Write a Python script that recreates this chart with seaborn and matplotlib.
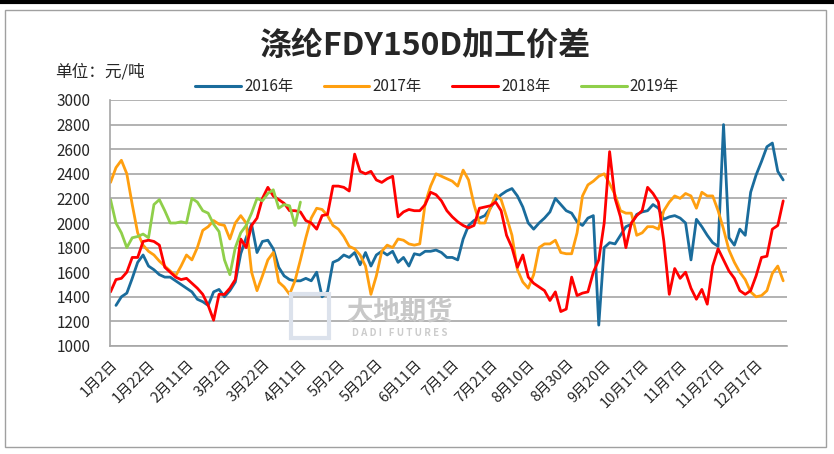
import numpy as np
import pandas as pd
import matplotlib
matplotlib.use("Agg")
import matplotlib.pyplot as plt
from matplotlib.patches import Rectangle
from matplotlib.lines import Line2D
import seaborn as sns

nan = np.nan

tick_labels = ["1月2日", "1月22日", "2月11日", "3月2日", "3月22日", "4月11日", "5月2日",
               "5月22日", "6月11日", "7月1日", "7月21日", "8月10日", "8月30日", "9月20日",
               "10月17日", "11月7日", "11月27日", "12月17日"]

y2016 = [nan, 1330, 1400, 1430, 1550, 1680, 1740, 1650, 1620, 1580,
         1560, 1560, 1530, 1500, 1470, 1440, 1380, 1360, 1330, 1440,
         1460, 1400, 1450, 1520, 1750, 1880, 1990, 1760, 1850, 1860,
         1790, 1640, 1570, 1540, 1530, 1530, 1550, 1530, 1600, 1400,
         1440, 1680, 1700, 1740, 1720, 1760, 1660, 1760, 1650, 1740,
         1770, 1740, 1770, 1680, 1720, 1650, 1750, 1740, 1770, 1770,
         1780, 1760, 1720, 1720, 1700, 1870, 1980, 2020, 2040, 2060,
         2120, 2190, 2230, 2260, 2280, 2220, 2130, 2000, 1950, 2000,
         2040, 2090, 2200, 2150, 2100, 2080, 2010, 1980, 2040, 2060,
         1170, 1800, 1840, 1830, 1900, 1970, 1990, 2070, 2090, 2100,
         2150, 2120, 2030, 2050, 2060, 2040, 2000, 1700, 2030, 1970,
         1900, 1840, 1810, 2800, 1880, 1820, 1950, 1900, 2250, 2390,
         2500, 2620, 2650, 2420, 2350]

y2017 = [2330, 2450, 2510, 2400, 2150, 1920, 1820, 1770, 1740, 1690,
         1650, 1610, 1570, 1650, 1740, 1700, 1800, 1940, 1970, 2020,
         1990, 1980, 1870, 2000, 2060, 2000, 1600, 1450, 1570, 1700,
         1760, 1520, 1480, 1420, 1530, 1700, 1880, 2040, 2120, 2110,
         2060, 1980, 1950, 1890, 1810, 1790, 1740, 1650, 1420, 1570,
         1770, 1820, 1800, 1870, 1860, 1830, 1820, 1830, 2160, 2300,
         2400, 2380, 2360, 2340, 2300, 2430, 2350, 2150, 2000, 2000,
         2120, 2230, 2190, 2050, 1900, 1620, 1520, 1470, 1580, 1800,
         1830, 1830, 1860, 1760, 1750, 1750, 1920, 2220, 2310, 2340,
         2380, 2400, 2320, 2230, 2100, 2080, 2080, 1900, 1920, 1970,
         1970, 1950, 2100, 2170, 2220, 2200, 2240, 2220, 2120, 2250,
         2220, 2220, 2100, 1950, 1780, 1680, 1600, 1540, 1440, 1400,
         1410, 1450, 1590, 1650, 1530]

y2018 = [1440, 1540, 1550, 1600, 1720, 1720, 1850, 1860, 1850, 1820,
         1640, 1600, 1560, 1540, 1550, 1510, 1470, 1420, 1330, 1210,
         1420, 1420, 1470, 1540, 1870, 1800, 1980, 2040, 2200, 2290,
         2220, 2190, 2160, 2100, 2100, 2090, 2020, 2000, 1950, 2060,
         2070, 2300, 2300, 2290, 2260, 2560, 2420, 2400, 2420, 2350,
         2330, 2360, 2380, 2050, 2090, 2110, 2100, 2100, 2150, 2250,
         2230, 2180, 2100, 2050, 2010, 1980, 1960, 1980, 2120, 2130,
         2140, 2170, 2100, 1900, 1800, 1640, 1740, 1560, 1510, 1480,
         1450, 1370, 1440, 1280, 1300, 1560, 1410, 1430, 1440, 1600,
         1700, 2000, 2580, 2200, 2050, 1800, 2000, 2060, 2100, 2290,
         2240, 2170, 1850, 1420, 1630, 1550, 1600, 1470, 1380, 1460,
         1340, 1650, 1790, 1700, 1610, 1550, 1450, 1420, 1450, 1570,
         1720, 1730, 1950, 1980, 2180]

y2019 = [2190, 2000, 1920, 1800, 1880, 1890, 1910, 1880, 2150, 2190,
         2100, 2000, 2000, 2010, 2000, 2200, 2170, 2100, 2080, 1990,
         1930, 1700, 1580, 1800, 1920, 1980, 2080, 2200, 2180, 2240,
         2270, 2120, 2150, 2140, 1980, 2170]

years = ["2016年", "2017年", "2018年", "2019年"]
colors = ["#1A6C9C", "#FF9F0F", "#FF0000", "#8FCF4A"]

n = len(y2016)
frames = []
for name, vals in zip(years, [y2016, y2017, y2018, y2019]):
    v = list(vals) + [nan] * (n - len(vals))
    frames.append(pd.DataFrame({"idx": np.arange(n), "value": v, "year": name}))
df = pd.concat(frames, ignore_index=True).dropna()

sns.set_theme(style="white")
plt.rcParams["font.family"] = ["Noto Sans CJK SC", "DejaVu Sans"]

W, H = 834, 454
fig = plt.figure(figsize=(W / 100, H / 100), dpi=100)
ax = fig.add_axes([110 / W, 1 - 346 / H, (787 - 110) / W, (346 - 100) / H])

# watermark (behind lines)
fig.patches.append(Rectangle((291 / W, 1 - 338 / H), 38 / W, 44 / H, transform=fig.transFigure,
                             fill=False, edgecolor="#DCE2EC", lw=3, zorder=0))
fig.text(400 / W, 1 - 313 / H, "大地期货", fontsize=19, color="#C8C8C8", fontweight="bold",
         ha="center", va="center", zorder=0)
fig.text(400 / W, 1 - 333 / H, "D A D I   F U T U R E S", fontsize=7, color="#CCCCCC",
         fontweight="bold", ha="center", va="center", zorder=0)

ax.patch.set_alpha(0)
sns.lineplot(data=df, x="idx", y="value", hue="year", hue_order=years,
             palette=colors, linewidth=2.0, ax=ax, legend=False, sort=False)

ax.set_xlim(-0.1, 124.7)
ax.set_ylim(1000, 3000)
ax.set_yticks(np.arange(1000, 3001, 200))
ax.set_xticks(np.arange(0, 7 * len(tick_labels), 7))
ax.set_xticklabels(tick_labels, rotation=45, ha="right", rotation_mode="anchor", fontsize=10.5)
ax.tick_params(axis="y", length=0, pad=14, labelsize=11)
ax.tick_params(axis="x", length=0, pad=8)
ax.set_xlabel("")
ax.set_ylabel("")
ax.grid(axis="y", color="#A6A6A6", linewidth=1.2)
ax.grid(axis="x", visible=False)
for s in ["top", "right"]:
    ax.spines[s].set_visible(False)
for s in ["left", "bottom"]:
    ax.spines[s].set_color("#A6A6A6")
    ax.spines[s].set_linewidth(1.2)

handles = [Line2D([0], [0], color=c, lw=2.2) for c in colors]
fig.legend(handles, years, loc="center", bbox_to_anchor=(437 / W, 1 - 87 / H), ncol=4,
           frameon=False, fontsize=11, handlelength=3.0, handletextpad=0.2, columnspacing=2.0)

fig.text(425 / W, 1 - 46 / H, "涤纶FDY150D加工价差", fontsize=23, fontweight="bold",
         ha="center", va="center")
fig.text(55 / W, 1 - 72 / H, "单位：元/吨", fontsize=12, ha="left", va="center")

# outer frame
fig.patches.append(Rectangle((5 / W, 1 - 447 / H), 821 / W, 437 / H, transform=fig.transFigure,
                             fill=False, edgecolor="#A0A0A0", lw=1.0))
fig.add_artist(Line2D([0, 1], [1 - 1.5 / H, 1 - 1.5 / H], transform=fig.transFigure,
                      color="black", lw=3))

fig.savefig("out.png", dpi=100)
